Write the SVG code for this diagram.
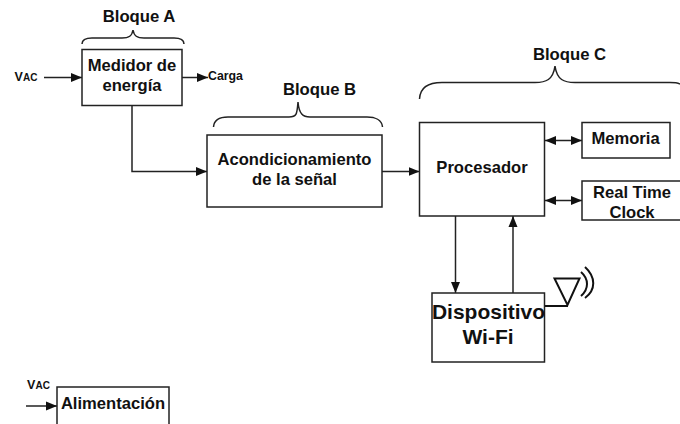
<svg xmlns="http://www.w3.org/2000/svg" width="680" height="424" viewBox="0 0 680 424">
<style>
text{font-family:"Liberation Sans",Arial,sans-serif;font-weight:bold;fill:#111;text-anchor:middle}
.box{fill:#fff;stroke:#222;stroke-width:1.500}
.ln{fill:none;stroke:#222;stroke-width:1.500}
.ant{fill:none;stroke:#111;stroke-width:2}
.t{font-size:16.600px}
.h{font-size:16.700px}
.v{font-size:12.500px}
.s{font-size:10px}
</style>
<defs>
<marker id="a" markerUnits="userSpaceOnUse" markerWidth="12" markerHeight="10" refX="11" refY="5" orient="auto-start-reverse"><path d="M0 0.500 L11 5 L0 9.500 Z" fill="#111"/></marker>
</defs>
<rect width="680" height="424" fill="#fff"/>
<g id="connectors">
<path class="ln" d="M44 77.500H82" marker-end="url(#a)"/>
<path class="ln" d="M182 77.500H208" marker-end="url(#a)"/>
<path class="ln" d="M132 105.500V171.500H207" marker-end="url(#a)"/>
<path class="ln" d="M382 171.500H419.500" marker-end="url(#a)"/>
<path class="ln" d="M545 140.500H582" marker-start="url(#a)" marker-end="url(#a)"/>
<path class="ln" d="M545 200.500H582" marker-start="url(#a)" marker-end="url(#a)"/>
<path class="ln" d="M455.500 216V293" marker-end="url(#a)"/>
<path class="ln" d="M513 293V216" marker-end="url(#a)"/>
<path class="ln" d="M26 406H57" marker-end="url(#a)"/>
<path class="ant" d="M544.500 306H568"/>
</g>
<g id="bloque-a">
<text class="h" x="139" y="22">Bloque A</text>
<path class="ln" d="M82 44C82 39 87 38 92 38H122C129 38 132 36 133 30C134 36 137 38 144 38H174C179 38 184 39 184 44"/>
</g>
<g id="bloque-b">
<text class="h" x="319.500" y="95">Bloque B</text>
<path class="ln" d="M213.500 127C214 120 220 117 228 117H289C297 117 297 114 298 102C299 114 303 117 310 117H367C375 117 382 120 382.500 127"/>
</g>
<g id="bloque-c">
<text class="h" x="569.500" y="60">Bloque C</text>
<path class="ln" d="M419.500 99C420 88 428 82.500 442 82.500H535C546 82.500 553 80 555 66C557 80 564 82.500 575 82.500H670C675 82.500 678 83 680 84"/>
</g>
<g id="vac-1"><text x="26" y="81" class="v">V<tspan class="s">AC</tspan></text></g>
<g id="carga"><text x="225.500" y="80" font-size="12.300px">Carga</text></g>
<g id="medidor"><rect class="box" x="82" y="49.500" width="100" height="56"/>
<text class="t" x="132" y="71">Medidor de</text><text class="t" x="132" y="91">energía</text></g>
<g id="acondicionamiento"><rect class="box" x="207" y="135" width="175" height="72"/>
<text class="t" x="294.500" y="165">Acondicionamiento</text><text class="t" x="294.500" y="185">de la señal</text></g>
<g id="procesador"><rect class="box" x="419.500" y="122.500" width="125" height="93.500"/>
<text class="t" x="482" y="173">Procesador</text></g>
<g id="memoria"><rect class="box" x="582" y="122.500" width="88" height="35.500"/>
<text class="t" x="625.500" y="144">Memoria</text></g>
<g id="rtc"><rect class="box" x="582" y="181" width="100" height="39"/>
<text class="t" x="632" y="198">Real Time</text><text class="t" x="632" y="218">Clock</text></g>
<g id="wifi"><rect class="box" x="432" y="293" width="112.500" height="69"/>
<text x="488.500" y="319" font-size="21px">Dispositivo</text><text x="488" y="344" font-size="21px">Wi-Fi</text></g>
<g id="antena">
<path class="ant" d="M554.500 278.500H579.500L567.500 305Z"/>
<path class="ant" d="M581 272C589 279 589 289 581 296"/>
<path class="ant" d="M585 267C596 277 596 290 585 298"/>
</g>
<g id="vac-2"><text x="38.500" y="389" class="v">V<tspan class="s">AC</tspan></text></g>
<g id="alimentacion"><rect class="box" x="57" y="387" width="112" height="40"/>
<text class="t" x="113" y="409">Alimentación</text></g>
</svg>
